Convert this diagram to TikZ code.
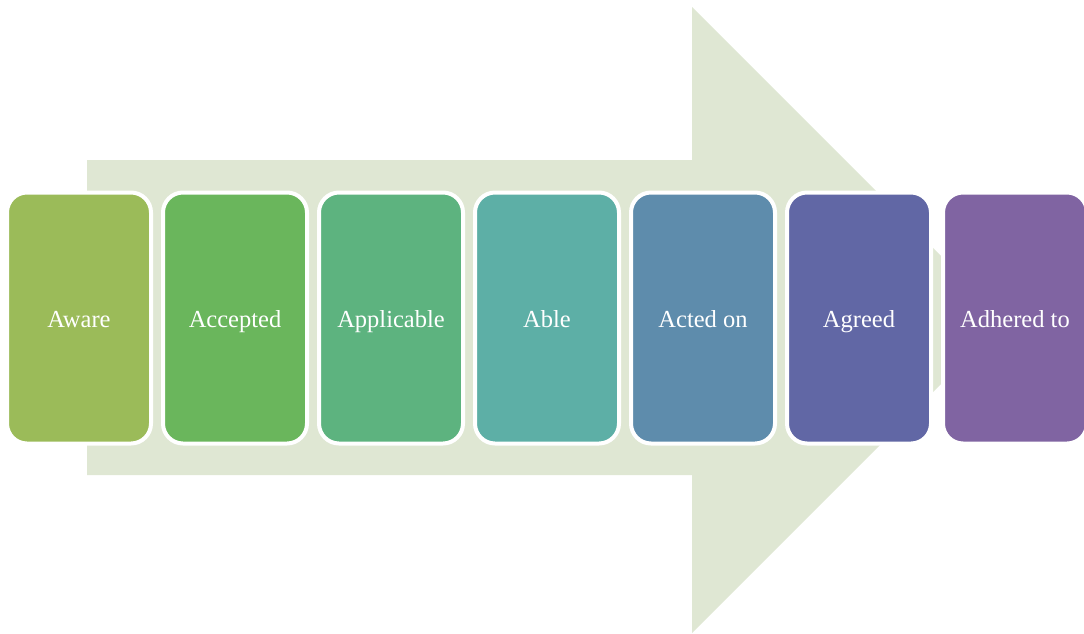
\documentclass[tikz,border=0pt]{standalone}
\usepackage{fontspec}
\setmainfont{Liberation Serif}
\usepackage{xcolor}
\definecolor{arrowbg}{HTML}{DFE7D3}
\definecolor{cAware}{HTML}{9BBB59}
\definecolor{cAccepted}{HTML}{6AB65C}
\definecolor{cApplicable}{HTML}{5DB37F}
\definecolor{cAble}{HTML}{5DAFA6}
\definecolor{cActed}{HTML}{5E8CAC}
\definecolor{cAgreed}{HTML}{6167A5}
\definecolor{cAdhered}{HTML}{8064A2}
\tikzset{
  stage/.style={draw=white, line width=4pt, rounded corners=20pt,
    minimum width=144pt, minimum height=251pt, inner sep=0pt,
    text height=18pt, text depth=0pt,
    text=white, font=\fontsize{24.5}{28}\selectfont}
}

\begin{document}
\begin{tikzpicture}[x=1pt,y=-1pt]
        \useasboundingbox (0,0) rectangle (1084,633);
        \fill[arrowbg] (87,160) -- (692,160) -- (692,7) -- (1005,320) -- (692,633) -- (692,475) -- (87,475) -- cycle;
        \foreach \name/\lbl/\col [count=\i] in {aware/Aware/cAware, accepted/Accepted/cAccepted,
            applicable/Applicable/cApplicable, able/Able/cAble, acted/Acted on/cActed,
            agreed/Agreed/cAgreed, adhered/Adhered to/cAdhered}
          \node[stage, fill=\col] (\name) at ({79+156*(\i-1)},318) {\lbl};
      \end{tikzpicture}
\end{document}
